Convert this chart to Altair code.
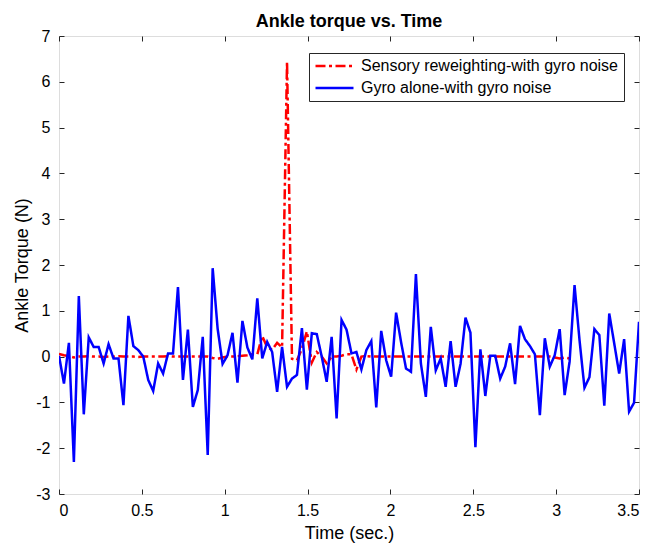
import altair as alt
import numpy as np
import pandas as pd

RED_NAME = "Sensory reweighting-with gyro noise"
BLUE_NAME = "Gyro alone-with gyro noise"

# sample times (118 samples from 0 to 3.5 s)
time_all = np.linspace(0, 3.5, 118)

gyro_alone = [
    0.02, -0.59, 0.30, -2.30, 1.32, -1.26, 0.42, 0.21, 0.21, -0.15,
    0.27, -0.04, -0.04, -1.06, 0.89, 0.23, 0.14, 0.00, -0.51, -0.75,
    -0.15, -0.37, 0.07, 0.07, 1.52, -0.51, 0.59, -1.10, -0.73, 0.43,
    -2.15, 1.93, 0.61, -0.16, 0.03, 0.52, -0.57, 0.78, 0.20, -0.06,
    1.27, -0.04, 0.32, 0.10, -0.77, 0.21, -0.66, -0.48, -0.40, 0.62,
    -0.72, 0.51, 0.49, 0.00, -0.55, 0.43, -1.35, 0.80, 0.59, 0.07,
    0.10, -0.28, 0.14, 0.34, -1.11, 0.56, -0.08, -0.44, 0.96, 0.32,
    -0.26, -0.33, 1.80, -0.15, -0.88, 0.65, -0.30, -0.04, -0.66, 0.34,
    -0.66, -0.16, 0.85, 0.52, -1.98, 0.16, -0.86, 0.02, 0.02, -0.48,
    -0.22, 0.29, -0.60, 0.67, 0.38, 0.23, 0.05, -1.28, 0.40, -0.22,
    0.03, 0.60, -0.84, -0.11, 1.56, 0.36, -0.68, -0.45, 0.60, 0.47,
    -1.07, 0.94, 0.29, -0.37, 0.38, -1.20, -1.01, 0.76,
]

sensory = [
    0.06, 0.03, 0.01, -0.02, 0.00, 0.00, 0.01, 0.00, 0.00, -0.01,
    0.00, 0.00, 0.01, 0.00, 0.00, 0.00, -0.01, 0.00, 0.00, 0.00,
    0.00, 0.00, 0.01, 0.00, 0.00, 0.00, 0.00, 0.00, 0.00, 0.00,
    0.00, -0.03, -0.05, -0.02, 0.00, 0.00, 0.01, 0.02, 0.03, 0.05,
    0.05, 0.45, 0.20, 0.15, 0.30, 0.20, 6.44, -0.05, -0.08, 0.17,
    0.55, -0.13, 0.10, 0.00, -0.15, 0.00, 0.00, 0.02, 0.05, 0.05,
    -0.28, 0.00, 0.01, 0.00, 0.00, 0.00, 0.00, 0.00, 0.00, 0.00,
    0.00, 0.00, 0.00, 0.00, 0.00, 0.00, 0.00, 0.00, 0.00, 0.00,
    0.00, 0.00, 0.00, 0.00, 0.00, 0.00, 0.00, 0.00, 0.00, 0.00,
    0.00, 0.00, 0.00, 0.00, 0.00, 0.00, 0.00, 0.00, 0.00, 0.00,
    -0.02, -0.04, -0.02, -0.04,
]

x_ticks = [0, 0.5, 1, 1.5, 2, 2.5, 3, 3.5]
y_ticks = [-3, -2, -1, 0, 1, 2, 3, 4, 5, 6, 7]

df_red = pd.DataFrame({"t": time_all[: len(sensory)], "v": sensory, "s": RED_NAME})
df_blue = pd.DataFrame({"t": time_all, "v": gyro_alone, "s": BLUE_NAME})

AX = "#262626"
FONT = "Liberation Sans"

xscale = alt.Scale(domain=[0, 3.5], nice=False, zero=False)
yscale = alt.Scale(domain=[-3, 7], nice=False, zero=False)
cscale = alt.Scale(domain=[RED_NAME, BLUE_NAME], range=["#ff0000", "#0000ff"])
dscale = alt.Scale(domain=[RED_NAME, BLUE_NAME], range=[[10, 3.5, 3, 3.5], [1, 0]])

common_axis = dict(
    offset=-5, tickSize=5, domain=False, grid=False, tickColor=AX,
    labelFont=FONT, labelFontSize=16, labelColor="black",
    titleFont=FONT, titleFontSize=18, titleFontWeight="normal", titleColor="black",
)

bottom_axis = alt.Axis(orient="bottom", values=x_ticks, labelExpr="'' + datum.value",
                       labelPadding=8, title="Time (sec.)", titlePadding=6, **common_axis)
top_axis = alt.Axis(orient="top", values=x_ticks, labels=False, title=None, **common_axis)
left_axis = alt.Axis(orient="left", values=y_ticks, labelExpr="'' + datum.value",
                     labelPadding=9, title="Ankle Torque (N)", titlePadding=4, **common_axis)
right_axis = alt.Axis(orient="right", values=y_ticks, labels=False, title=None, **common_axis)

legend = alt.Legend(
    title=None, orient="none", legendX=250, legendY=17,
    symbolType="stroke", symbolSize=1444, symbolStrokeWidth=2.5, clipHeight=16,
    labelFont=FONT, labelFontSize=16, labelColor="black", labelOffset=6, labelLimit=500,
    padding=5, rowPadding=6, strokeColor=AX, fillColor="white", cornerRadius=0,
)

red_layer = alt.Chart(df_red).mark_line(strokeWidth=2.5, clip=True).encode(
    x=alt.X("t:Q", scale=xscale, axis=bottom_axis),
    y=alt.Y("v:Q", scale=yscale, axis=left_axis),
    color=alt.Color("s:N", scale=cscale, legend=legend),
    strokeDash=alt.StrokeDash("s:N", scale=dscale, legend=legend),
)

blue_layer = alt.Chart(df_blue).mark_line(strokeWidth=2.5, clip=True).encode(
    x=alt.X("t:Q", scale=xscale, axis=top_axis),
    y=alt.Y("v:Q", scale=yscale, axis=right_axis),
    color=alt.Color("s:N", scale=cscale, legend=legend),
    strokeDash=alt.StrokeDash("s:N", scale=dscale, legend=legend),
)

chart = (
    alt.layer(red_layer, blue_layer)
    .resolve_axis(x="independent", y="independent")
    .properties(
        width=580,
        height=458,
        title=alt.TitleParams("Ankle torque vs. Time", font=FONT, fontSize=18,
                              fontWeight="bold", color="black", anchor="middle",
                              offset=6, dy=9),
        padding={"left": 51, "top": 28, "right": 7, "bottom": 51},
        autosize=alt.AutoSizeParams(type="none"),
    )
    .configure_view(stroke=AX, strokeWidth=1)
    .configure(font=FONT)
)

chart.save("out.html", embed_options={"renderer": "svg", "actions": False})
